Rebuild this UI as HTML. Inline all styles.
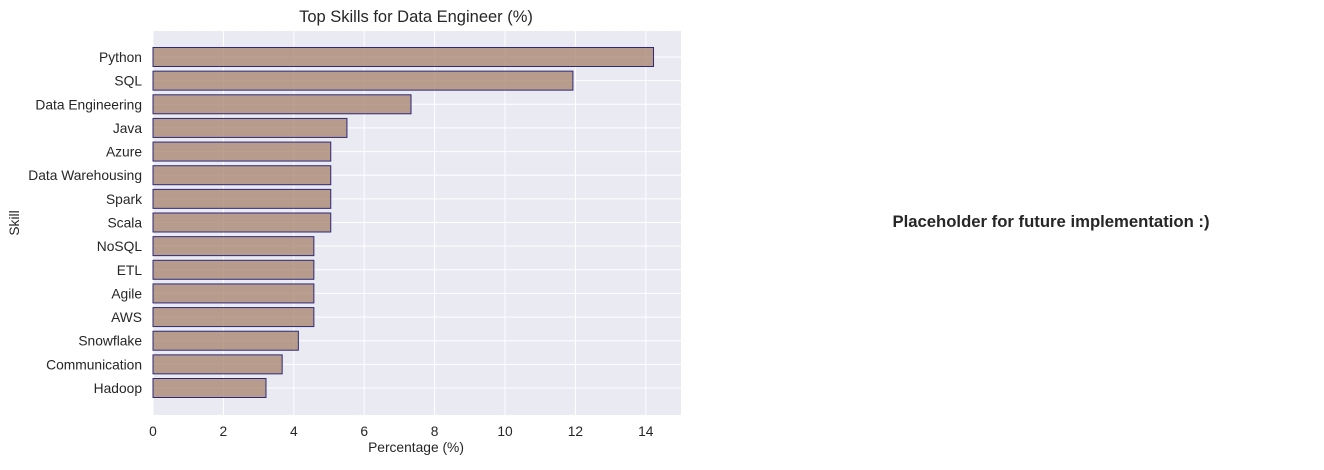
<!DOCTYPE html>
<html><head><meta charset="utf-8"><style>
body{margin:0;background:#fff;font-family:"Liberation Sans",sans-serif;}
</style></head><body>
<svg width="1324" height="465" id="svg" font-family="Liberation Sans, sans-serif">
<rect x="153" y="31" width="528" height="384" fill="#eaeaf2"/>
<g id="grid"></g>
<g id="bars"></g>
<g id="ticks"></g>
<text x="416" y="22" text-anchor="middle" font-size="16.5" fill="#262626">Top Skills for Data Engineer (%)</text>
<text x="416" y="452" text-anchor="middle" font-size="13.8" fill="#262626">Percentage (%)</text>
<text x="19" y="223" text-anchor="middle" font-size="13.8" fill="#262626" transform="rotate(-90 19 223)">Skill</text>
<text x="1051" y="227" text-anchor="middle" font-size="16.7" font-weight="bold" fill="#262626">Placeholder for future implementation :)</text>
</svg>
<script>
const skills=["Python","SQL","Data Engineering","Java","Azure","Data Warehousing","Spark","Scala","NoSQL","ETL","Agile","AWS","Snowflake","Communication","Hadoop"];
const values=[14.22,11.93,7.33,5.51,5.05,5.05,5.05,5.05,4.57,4.57,4.57,4.57,4.13,3.67,3.21];
const xTicks=[0,2,4,6,8,10,12,14];
const NS="http://www.w3.org/2000/svg";
const X0=153,X1=681,XMAX=15;
const x=v=>X0+(v/XMAX)*(X1-X0);
const Y0=57,step=(388-57)/14;
const y=i=>Y0+i*step;
function mk(t,a,p){const e=document.createElementNS(NS,t);for(const k in a)e.setAttribute(k,a[k]);p.appendChild(e);return e;}
const grid=document.getElementById('grid'),bars=document.getElementById('bars'),ticks=document.getElementById('ticks');
xTicks.forEach(t=>{
 const l=mk('line',{x1:x(t),x2:x(t),y1:31,y2:415,stroke:'#fff','stroke-width':1},grid);
 
 
 const tx=mk('text',{x:x(t),y:436,'text-anchor':'middle','font-size':13.8,fill:'#262626'},ticks);
 tx.textContent=t;
 
 
});
skills.forEach((s,i)=>{
 const g=mk('line',{x1:X0,x2:X1,y1:y(i),y2:y(i),stroke:'#fff','stroke-width':1},grid);
 
 
 const r=mk('rect',{x:X0,y:y(i)-9.5,width:x(values[i])-X0,height:19,fill:'#a6806a','fill-opacity':0.75,stroke:'#2e2a78','stroke-width':1},bars);
 
 
 const t=mk('text',{x:142,y:y(i)+5,'text-anchor':'end','font-size':13.8,fill:'#262626'},ticks);
 t.textContent=s;
 
 
});
</script>
</body></html>
